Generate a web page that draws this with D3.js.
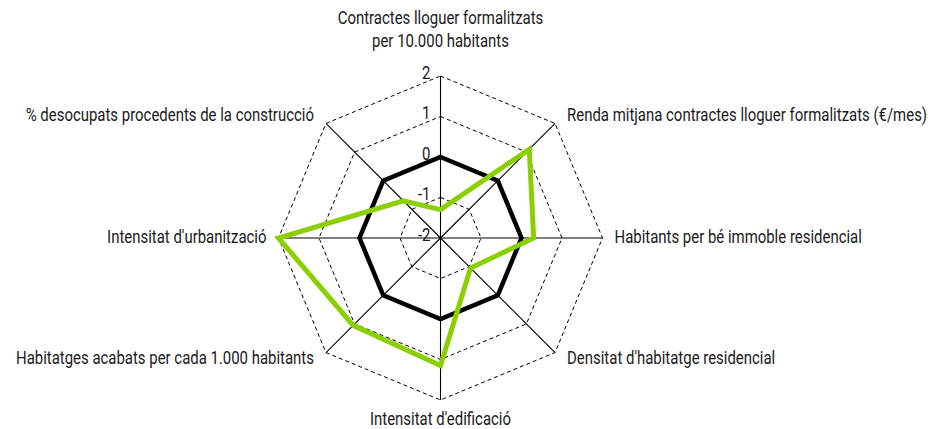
<!DOCTYPE html>
<html><head><meta charset="utf-8">
<script src="https://cdn.jsdelivr.net/npm/d3@7"></script>
<style>
html,body{margin:0;padding:0;background:#fff;}
text{font-family:Roboto,sans-serif;font-size:18px;fill:#1a1a1a;}
</style></head>
<body><svg id="c" width="930" height="429"></svg>
<script>
const axes = [
  ["Contractes lloguer formalitzats","per 10.000 habitants"],
  ["Renda mitjana contractes lloguer formalitzats (€/mes)"],
  ["Habitants per bé immoble residencial"],
  ["Densitat d'habitatge residencial"],
  ["Intensitat d'edificació"],
  ["Habitatges acabats per cada 1.000 habitants"],
  ["Intensitat d'urbanització"],
  ["% desocupats procedents de la construcció"]
];
const reference = [0, 0, 0, 0, 0, 0, 0, 0];
const municipality = [-1.3, 1.1, 0.3, -0.95, 1.15, 1.05, 2.0, -0.7];
const tickValues = [-2, -1, 0, 1, 2];
const tickLabels = ["-2", "-1", "0", "1", "2"];

const cx = 440.5, cy = 238, R = 162;
const squeeze = 0.83;
const svg = d3.select("#c");
const r = d3.scaleLinear().domain([-2, 2]).range([0, R]);
const n = axes.length;
const ang = i => i * 2 * Math.PI / n;
const pt = (i, v) => [cx + r(v) * Math.sin(ang(i)), cy - r(v) * Math.cos(ang(i))];

const g = svg.append("g");
tickValues.filter(v => v > -2).forEach(v => {
  g.append("path")
    .attr("d", d3.line()(d3.range(n).map(i => pt(i, v))) + "Z")
    .attr("fill", "none").attr("stroke", "#000").attr("stroke-width", 1)
    .attr("stroke-dasharray", "4,3");
});
d3.range(n).forEach(i => {
  const p = pt(i, 2);
  g.append("line").attr("x1", cx).attr("y1", cy).attr("x2", p[0]).attr("y2", p[1])
    .attr("stroke", "#000").attr("stroke-width", 1.1);
});
const radar = d3.lineRadial().angle((d, i) => ang(i)).radius(d => r(d)).curve(d3.curveLinearClosed);
const sg = svg.append("g").attr("transform", `translate(${cx},${cy})`);
sg.append("path").attr("d", radar(reference)).attr("fill", "none")
  .attr("stroke", "#000").attr("stroke-width", 4.5).attr("stroke-linejoin", "miter");
sg.append("path").attr("d", radar(municipality)).attr("fill", "none")
  .attr("stroke", "#8ccf00").attr("stroke-width", 5).attr("stroke-linejoin", "miter");

function label(x, y, anchor, str) {
  svg.append("text")
    .attr("transform", `translate(${x},${y}) scale(${squeeze},1)`)
    .attr("text-anchor", anchor).attr("dominant-baseline", "middle")
    .text(str);
}

tickValues.forEach((v, k) => label(cx - 10, cy - r(v) - 2, "end", tickLabels[k]));

axes.forEach((lines, i) => {
  const a = ang(i), s = Math.sin(a), c = Math.cos(a);
  const p = pt(i, 2);
  let x = p[0] + s * 12;
  const anchor = Math.abs(s) < 0.01 ? "middle" : (s > 0 ? "start" : "end");
  const lh = 23;
  let y0;
  if (Math.abs(s) < 0.01 && c > 0) { y0 = p[1] - 34 - (lines.length - 1) * lh; }
  else if (Math.abs(s) < 0.01) { y0 = p[1] + 20; }
  else if (Math.abs(c) < 0.01) { y0 = p[1]; }
  else { y0 = p[1] - c * 10; x = p[0] + s * 17; }
  lines.forEach((l, j) => label(x, y0 + j * lh, anchor, l));
});
</script></body></html>
